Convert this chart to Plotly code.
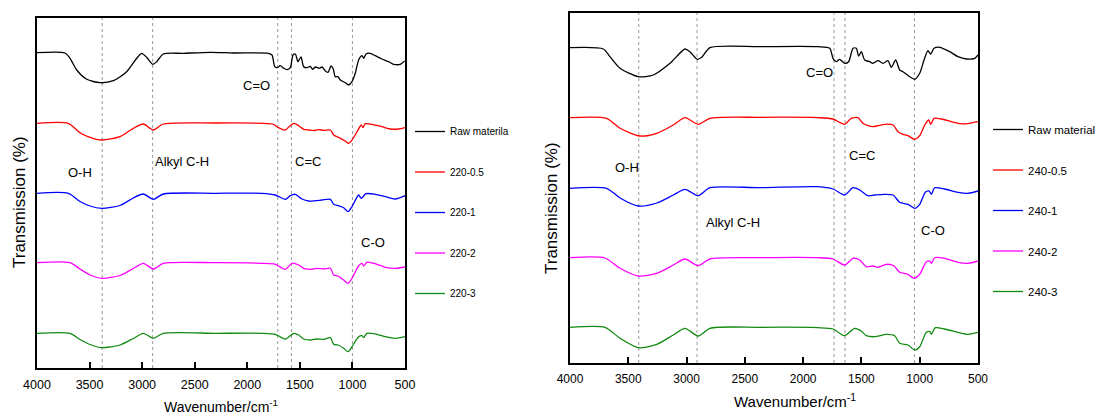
import plotly.graph_objects as go

# ---------------- Data ----------------
# Left panel: 220 °C series
wn_L_raw = [4000, 3734, 3686, 3622, 3527, 3401, 3274, 3147, 3052, 3004, 2957, 2900, 2862, 2799,
            2609, 2355, 2133, 1800, 1765, 1739, 1717, 1686, 1654, 1622, 1591, 1565, 1543, 1518,
            1489, 1464, 1432, 1401, 1378, 1353, 1315, 1289, 1258, 1232, 1204, 1185, 1163, 1137,
            1115, 1068, 1036, 1004, 973, 941, 909, 893, 871, 830, 783, 719, 655, 608, 545, 503]
t_L_raw = [315.3, 315, 309.7, 298, 288.7, 285.3, 287.3, 296.3, 309.7, 314.7, 310.7, 303.7, 306.3, 314,
           314.7, 315.7, 315, 314.7, 313, 301.3, 300.3, 302.3, 299.7, 298.3, 300.3, 313, 314, 306.3,
           311, 301.3, 300.3, 301.7, 298.7, 301, 299.7, 301, 297, 295.7, 302, 299.7, 291.3, 291.3,
           288, 285.3, 283, 286.3, 294.7, 308, 312.3, 309.7, 314, 314.7, 312.3, 309, 306.3, 303.7, 303.7, 307]

wn_L_05 = [4000, 3702, 3591, 3496, 3385, 3211, 3084, 2989, 2894, 2799, 2300, 1860, 1751, 1704, 1638,
           1606, 1559, 1511, 1464, 1416, 1369, 1321, 1274, 1210, 1178, 1147, 1115, 1068, 1036, 1004,
           956, 916, 900, 878, 814, 719, 640, 560, 500]
t_L_05 = [244.7, 244.7, 235.3, 230.7, 228, 231.3, 239.7, 244, 238, 244, 245, 244.7, 243.7, 240.3, 238,
          241, 244.7, 242.3, 238.7, 238, 237.3, 238.3, 237.7, 238, 233, 231.3, 229.7, 227, 224.7, 228,
          236.3, 243, 240.3, 244.3, 243.7, 241.3, 239, 239, 240.3]

wn_L_1 = [4000, 3702, 3591, 3496, 3385, 3211, 3084, 2989, 2894, 2799, 2300, 1860, 1733, 1638, 1591,
          1543, 1480, 1416, 1353, 1289, 1210, 1178, 1131, 1083, 1042, 1004, 941, 916, 871, 783, 687, 592, 500]
t_L_1 = [174.7, 174.7, 166.5, 162, 159.7, 162.5, 170, 174, 168.7, 174, 174.7, 174.7, 173, 168.7, 172.3,
         173.7, 169, 167, 167.3, 168, 168.7, 163.7, 162.3, 160.3, 156.3, 161.3, 173, 169.7, 174.3, 173.7,
         171.3, 169, 172.3]

wn_L_2 = [4000, 3686, 3591, 3496, 3385, 3211, 3084, 2989, 2894, 2799, 2300, 1860, 1733, 1638, 1575,
          1511, 1464, 1401, 1337, 1274, 1210, 1178, 1137, 1083, 1042, 1004, 941, 909, 893, 862, 767, 687, 592, 500]
t_L_2 = [105.3, 105.3, 99, 93, 89.7, 92.5, 99.5, 104.7, 99, 104.7, 105.3, 104.7, 103.7, 98.7, 104.7,
         103, 99.7, 98.7, 99.7, 99, 99.7, 93, 92, 88, 84.7, 89.7, 102.3, 104.7, 102, 105.7, 103.7, 100.7, 99.7, 101]

wn_L_3 = [4000, 3686, 3591, 3496, 3385, 3211, 3084, 2989, 2894, 2799, 2300, 1860, 1733, 1638, 1559,
          1511, 1464, 1401, 1337, 1274, 1210, 1178, 1137, 1083, 1042, 1004, 941, 909, 893, 862, 767, 687, 592, 500]
t_L_3 = [34.7, 34.7, 28.5, 23.5, 20.3, 23, 29.5, 34.7, 29.7, 34.7, 34.7, 34.7, 33.7, 29, 34.7,
         33, 29, 28, 29, 28.7, 30.3, 23.7, 23, 19.7, 16.3, 21.3, 31.3, 32.3, 30.3, 34.7, 33.7, 31.3, 29.7, 31.3]

# Right panel: 240 °C series
wn_R_raw = [4000, 3714, 3657, 3571, 3414, 3285, 3142, 3014, 2971, 2908, 2870, 2799, 2370, 1873, 1772,
            1744, 1716, 1687, 1644, 1610, 1572, 1544, 1524, 1501, 1472, 1429, 1401, 1358, 1315, 1272,
            1244, 1206, 1172, 1144, 1086, 1043, 1000, 963, 929, 906, 877, 829, 743, 672, 600, 528, 500]
t_R_raw = [315.3, 314, 306.3, 294.7, 286.3, 288, 299.7, 314, 311.3, 303.7, 305.7, 315.3, 316.3, 316.3, 314.7,
           304.7, 301.3, 303.7, 299.7, 301.3, 314.7, 314.7, 307, 311.3, 303, 301.3, 299.7, 302.3, 299.7, 302.3,
           295.7, 303, 293, 291.3, 286.3, 283.7, 289.7, 303, 312.3, 309, 314.7, 315.7, 311.3, 306.3, 304, 304.7, 308]

wn_R_05 = [4000, 3686, 3571, 3400, 3256, 3114, 3014, 2900, 2799, 2370, 1873, 1744, 1687, 1644, 1587,
           1530, 1487, 1444, 1401, 1358, 1301, 1229, 1186, 1144, 1101, 1043, 1000, 957, 923, 906, 877,
           814, 729, 657, 572, 500]
t_R_05 = [245.3, 244.7, 234.7, 227, 229.7, 238, 245.3, 238.7, 244.7, 245.7, 245.3, 244, 240.7, 238.7, 244.7,
          245.3, 239.7, 237.3, 236.3, 237.3, 238.7, 238, 231.3, 228.7, 227.3, 223.7, 227.3, 238, 243, 238.7, 244.7,
          244, 241.3, 239.3, 239.7, 241.3]

wn_R_1 = [4000, 3686, 3571, 3414, 3256, 3114, 3014, 2900, 2799, 2370, 1873, 1744, 1644, 1572, 1515,
          1444, 1387, 1301, 1229, 1172, 1101, 1043, 1000, 952, 920, 900, 872, 786, 672, 586, 500]
t_R_1 = [174.7, 174.7, 165, 157, 160, 168, 173.7, 167.3, 175.3, 175.3, 176.3, 174, 168, 175.3, 173,
         167.3, 168, 168.7, 168, 160.7, 158.7, 154.7, 158.7, 170.7, 172, 168.7, 175.3, 174, 170.7, 169.7, 172]

wn_R_2 = [4000, 3700, 3571, 3414, 3256, 3114, 3014, 2900, 2799, 2370, 1873, 1744, 1644, 1572, 1515,
          1458, 1401, 1358, 1287, 1222, 1172, 1101, 1049, 1000, 943, 914, 900, 872, 786, 672, 586, 500]
t_R_2 = [105.3, 105, 94.7, 87, 89.7, 98, 104, 97.3, 104, 105.3, 105.3, 104, 98, 104.7, 103,
         96.3, 97, 95.7, 98.7, 97.3, 90.7, 88.7, 84.7, 88.7, 101.3, 102, 99.7, 105.3, 104.7, 100.7, 99.7, 102]

wn_R_3 = [4000, 3700, 3571, 3414, 3256, 3114, 3014, 2900, 2799, 2370, 1873, 1744, 1644, 1558, 1501,
          1458, 1387, 1287, 1215, 1172, 1101, 1043, 1000, 943, 914, 900, 866, 786, 672, 586, 500]
t_R_3 = [35.7, 35.7, 24.7, 15.3, 18.7, 28, 34.7, 27, 34.7, 35.7, 35.3, 34, 27.3, 34.7, 32,
         27.3, 26.3, 28.7, 27.3, 19.7, 18, 13, 16.3, 30.7, 31.3, 28.7, 35.3, 34, 30.7, 28.7, 30.7]

names_L = ["Raw materila", "220-0.5", "220-1", "220-2", "220-3"]
names_R = ["Raw material", "240-0.5", "240-1", "240-2", "240-3"]

bands_L = [3380, 2900, 1710, 1580, 1000]
bands_R = [3410, 2910, 1735, 1641, 1045]

labels_L = ["C=O", "O-H", "Alkyl C-H", "C=C", "C-O"]
label_x_L = [1908, 3591, 2621, 1423, 804]
label_y_L = [283, 196, 207, 207, 126]
labels_R = ["C=O", "O-H", "Alkyl C-H", "C=C", "C-O"]
label_x_R = [1864, 3511, 2602, 1495, 890]
label_y_R = [290, 196, 141, 208, 133]

tick_vals = [4000, 3500, 3000, 2500, 2000, 1500, 1000, 500]

# ---------------- Figure ----------------
FONT = "Liberation Sans, Arial, sans-serif"
colors = ["#000000", "#ff0000", "#0000ff", "#ff00ff", "#108a10"]

fig = go.Figure()

left_series = [(wn_L_raw, t_L_raw), (wn_L_05, t_L_05), (wn_L_1, t_L_1), (wn_L_2, t_L_2), (wn_L_3, t_L_3)]
right_series = [(wn_R_raw, t_R_raw), (wn_R_05, t_R_05), (wn_R_1, t_R_1), (wn_R_2, t_R_2), (wn_R_3, t_R_3)]

for i, ((wx, ty), nm) in enumerate(zip(left_series, names_L)):
    fig.add_trace(go.Scatter(x=wx, y=ty, mode="lines", name=nm, xaxis="x", yaxis="y",
                             line=dict(color=colors[i], width=1.3, shape="spline", smoothing=0.7),
                             legend="legend", legendgroup="L%d" % i))
for i, ((wx, ty), nm) in enumerate(zip(right_series, names_R)):
    fig.add_trace(go.Scatter(x=wx, y=ty, mode="lines", name=nm, xaxis="x2", yaxis="y2",
                             line=dict(color=colors[i], width=1.3, shape="spline", smoothing=0.7),
                             legend="legend2", legendgroup="R%d" % i))

shapes = []
for b in bands_L:
    shapes.append(dict(type="line", xref="x", yref="y domain", x0=b, x1=b, y0=0, y1=1,
                       line=dict(color="#999999", width=1, dash="dot"), layer="below"))
for b in bands_R:
    shapes.append(dict(type="line", xref="x2", yref="y2 domain", x0=b, x1=b, y0=0, y1=1,
                       line=dict(color="#999999", width=1, dash="dot"), layer="below"))

annotations = []
for t, x, y in zip(labels_L, label_x_L, label_y_L):
    annotations.append(dict(text=t, x=x, y=y, xref="x", yref="y", showarrow=False,
                            xanchor="center", yanchor="middle",
                            font=dict(family=FONT, size=13, color="#000")))
for t, x, y in zip(labels_R, label_x_R, label_y_R):
    annotations.append(dict(text=t, x=x, y=y, xref="x2", yref="y2", showarrow=False,
                            xanchor="center", yanchor="middle",
                            font=dict(family=FONT, size=13, color="#000")))

W, H = 1095, 419
# axis titles
annotations += [
    dict(text="Transmission (%)", x=19 / W, y=1 - 202 / H, xref="paper", yref="paper",
         xanchor="center", yanchor="middle",
         textangle=-90, showarrow=False, font=dict(family=FONT, size=17, color="#000")),
    dict(text="Transmission (%)", x=551 / W, y=1 - 208 / H, xref="paper", yref="paper",
         xanchor="center", yanchor="middle",
         textangle=-90, showarrow=False, font=dict(family=FONT, size=17, color="#000")),
    dict(text="Wavenumber/cm<sup>-1</sup>", x=221 / W, y=1 - 406 / H, xref="paper", yref="paper",
         xanchor="center", yanchor="middle",
         showarrow=False, font=dict(family=FONT, size=14, color="#000")),
    dict(text="Wavenumber/cm<sup>-1</sup>", x=795 / W, y=1 - 400 / H, xref="paper", yref="paper",
         xanchor="center", yanchor="middle",
         showarrow=False, font=dict(family=FONT, size=15, color="#000")),
]

xcommon = dict(range=[4000, 500], tickvals=tick_vals, ticks="inside", ticklen=6, tickwidth=1.5,
               tickcolor="#000", showline=True, mirror=True, linecolor="#000", linewidth=1.5,
               showgrid=False, zeroline=False, ticklabelstandoff=4, automargin=False)
ycommon = dict(range=[0, 350], showticklabels=False, ticks="", showline=True, mirror=True,
               linecolor="#000", linewidth=1.5, showgrid=False, zeroline=False, automargin=False)

fig.update_layout(
    width=W, height=H, margin=dict(l=0, r=0, t=0, b=0, autoexpand=False),
    paper_bgcolor="white", plot_bgcolor="white",
    font=dict(family=FONT, color="#000"),
    xaxis=dict(domain=[37 / W, 405 / W], anchor="y", tickfont=dict(size=12.5, family=FONT), **xcommon),
    yaxis=dict(domain=[1 - 368 / H, 1 - 18 / H], anchor="x", **ycommon),
    xaxis2=dict(domain=[570 / W, 978 / W], anchor="y2", tickfont=dict(size=12, family=FONT), **xcommon),
    yaxis2=dict(domain=[1 - 363 / H, 1 - 13 / H], anchor="x2", **ycommon),
    legend=dict(x=410 / W, y=1 - 117 / H, xanchor="left", yanchor="top", traceorder="grouped",
                tracegroupgap=21.5, font=dict(size=10, family=FONT), bgcolor="rgba(0,0,0,0)"),
    legend2=dict(x=988 / W, y=1 - 115 / H, xanchor="left", yanchor="top", traceorder="grouped",
                 tracegroupgap=21.5, font=dict(size=11.5, family=FONT), bgcolor="rgba(0,0,0,0)"),
    shapes=shapes, annotations=annotations,
)

fig.write_html("out.html", include_plotlyjs=True, config={"displayModeBar": False},
               post_script="document.body.style.margin='0';document.body.style.overflow='hidden';")
